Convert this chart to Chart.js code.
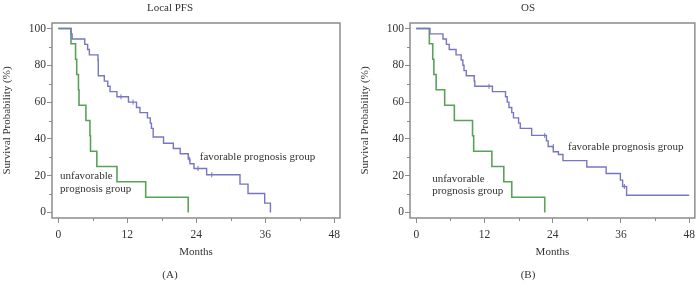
<!DOCTYPE html>
<html>
<head>
<meta charset="utf-8">
<script src="https://cdn.jsdelivr.net/npm/chart.js@4/dist/chart.umd.min.js"></script>
<style>
  html, body { margin: 0; padding: 0; background: #fff; }
  #wrap { position: relative; width: 700px; height: 291px; }
  canvas { position: absolute; top: 0; }
  #pfs { left: 0; }
  #os { left: 350px; }
</style>
</head>
<body>
<div id="wrap">
  <canvas id="pfs" width="350" height="291"></canvas>
  <canvas id="os" width="350" height="291"></canvas>
</div>
<script>
// Local PFS - favorable prognosis group (month of event, survival % after it)
const pfsFavMonths = [0, 2.2, 2.4, 4.6, 5.1, 5.4, 6.9, 6.95, 8.0, 8.6, 9.0, 10.2, 12.2, 13.6, 14.2, 15.5, 16.0, 16.2, 16.5, 18.3, 20.0, 21.2, 22.6, 22.9, 23.6, 25.8, 31.6, 33.0, 35.9, 36.9];
const pfsFavSurv = [100, 97.1, 94.3, 91.4, 88.6, 85.7, 82.9, 74.3, 71.4, 68.6, 65.7, 62.9, 60.0, 57.1, 54.3, 51.4, 48.6, 45.7, 41.0, 37.6, 34.8, 31.9, 29.0, 26.5, 23.9, 20.5, 15.4, 10.3, 5.1, 0];
// Local PFS - unfavorable prognosis group
const pfsUnfMonths = [0, 2.2, 3.0, 3.2, 3.5, 3.6, 4.8, 5.5, 5.6, 6.7, 10.2, 15.2, 22.6];
const pfsUnfSurv = [100, 91.7, 83.3, 75.0, 66.7, 58.3, 50.0, 41.7, 33.3, 25.0, 16.7, 8.3, 0];
// censored observations (favorable group)
const pfsCensMonths = [10.9, 13.0, 22.8, 24.3, 26.7];
const pfsCensSurv = [62.9, 60.0, 29.0, 23.9, 20.5];

// OS - favorable prognosis group
const osFavMonths = [0, 2.4, 4.7, 5.3, 5.8, 7.0, 7.9, 8.2, 8.4, 8.8, 10.2, 10.3, 13.4, 15.7, 16.0, 16.3, 16.8, 17.1, 18.0, 18.3, 20.3, 22.9, 23.2, 24.1, 25.0, 25.8, 30.0, 33.4, 35.9, 36.3, 37.0, 48.0];
const osFavSurv = [100, 97.1, 94.3, 91.4, 88.6, 85.7, 82.9, 80.0, 77.1, 74.3, 71.4, 68.6, 65.7, 62.9, 60.0, 57.1, 54.3, 51.4, 48.6, 45.7, 41.9, 38.9, 35.9, 33.0, 31.5, 28.2, 24.7, 21.2, 17.6, 14.1, 9.4, 9.4];
// OS - unfavorable prognosis group
const osUnfMonths = [0, 2.3, 2.9, 3.1, 3.5, 5.0, 6.7, 9.9, 10.1, 13.3, 15.4, 16.8, 22.6];
const osUnfSurv = [100, 91.7, 83.3, 75.0, 66.7, 58.3, 50.0, 41.7, 33.3, 25.0, 16.7, 8.3, 0];
const osCensMonths = [12.8, 22.6, 24.1, 36.6];
const osCensSurv = [68.6, 41.9, 35.9, 14.1];

const monthTicks = [0, 12, 24, 36, 48];
const minorMonths = [6, 18, 30, 42];
const minorSurv = [10, 30, 50, 70, 90];

const favColor = '#7676c4';
const unfColor = '#5aa25a';
const frameColor = '#8c8c8c';
const textColor = '#333';
const serif = "'Liberation Serif', 'Times New Roman', serif";

function pts(xs, ys) {
  return xs.map((m, i) => ({ x: m, y: ys[i] }));
}

const framePlugin = {
  id: 'frame',
  beforeDatasetsDraw(chart) {
    const { ctx, chartArea: a, scales: { x, y } } = chart;
    ctx.save();
    ctx.strokeStyle = frameColor;
    ctx.lineWidth = 1.5;
    ctx.strokeRect(a.left, a.top, a.right - a.left, a.bottom - a.top);
    ctx.lineWidth = 1;
    ctx.beginPath();
    minorMonths.forEach(v => {
      const px = Math.round(x.getPixelForValue(v)) + 0.5;
      ctx.moveTo(px, a.bottom);
      ctx.lineTo(px, a.bottom + 3);
    });
    minorSurv.forEach(v => {
      const py = Math.round(y.getPixelForValue(v)) + 0.5;
      ctx.moveTo(a.left, py);
      ctx.lineTo(a.left - 3, py);
    });
    ctx.stroke();
    ctx.restore();
  },
  afterDatasetsDraw(chart, args, opts) {
    const { ctx, scales: { x, y } } = chart;
    ctx.save();
    ctx.fillStyle = textColor;
    ctx.font = '11px ' + serif;
    ctx.textBaseline = 'middle';
    ctx.textAlign = 'left';
    (opts.notes || []).forEach(n => {
      ctx.fillText(n.text, x.getPixelForValue(n.x), y.getPixelForValue(n.y));
    });
    ctx.restore();
  }
};

function makeChart(id, cfg) {
  const font = { family: serif, size: 11, weight: 'normal' };
  const tickFont = { family: serif, size: 11.5, weight: 'normal' };
  return new Chart(document.getElementById(id), {
    type: 'scatter',
    data: {
      datasets: [
        { data: pts(cfg.favM, cfg.favS), showLine: true, stepped: true, borderColor: favColor, borderWidth: 1.4, pointRadius: 0 },
        { data: pts(cfg.unfM, cfg.unfS), showLine: true, stepped: true, borderColor: unfColor, borderWidth: 1.6, pointRadius: 0 },
        { data: pts(cfg.censM, cfg.censS), showLine: false, pointStyle: 'line', rotation: 90, pointRadius: 2.5, borderColor: favColor, borderWidth: 1 }
      ]
    },
    options: {
      responsive: false,
      animation: false,
      devicePixelRatio: 1,
      layout: { padding: { left: cfg.padLeft, right: cfg.padRight, top: 0, bottom: 0 } },
      plugins: {
        legend: { display: false },
        tooltip: { enabled: false },
        title: { display: true, text: cfg.title, font, color: textColor, padding: { top: 1.5, bottom: 8.3 } },
        subtitle: { display: true, position: 'bottom', text: cfg.tag, font, color: textColor, padding: { top: 2, bottom: 9.4 } },
        frame: { notes: cfg.notes }
      },
      scales: {
        x: {
          type: 'linear', min: -1.1, max: 49,
          afterBuildTicks: s => { s.ticks = monthTicks.map(v => ({ value: v })); },
          ticks: { font: tickFont, color: textColor, padding: 5, maxRotation: 0 },
          grid: { drawOnChartArea: false, tickLength: 5, tickColor: frameColor },
          border: { display: false },
          title: { display: true, text: 'Months', font, color: textColor, padding: { top: 0, bottom: 7.4 } },
          afterFit: s => { s.height = 48.4; }
        },
        y: {
          type: 'linear', min: -3, max: 103,
          ticks: { stepSize: 20, includeBounds: false, font: tickFont, color: textColor, padding: 1 },
          grid: { drawOnChartArea: false, tickLength: 5, tickColor: frameColor },
          border: { display: false },
          title: { display: true, text: 'Survival Probability (%)', font, color: textColor, padding: { top: 0.5, bottom: 0 } },
          afterFit: s => { s.width = 52; }
        }
      }
    },
    plugins: [framePlugin]
  });
}

makeChart('pfs', {
  title: 'Local PFS', tag: '(A)',
  favM: pfsFavMonths, favS: pfsFavSurv,
  unfM: pfsUnfMonths, unfS: pfsUnfSurv,
  censM: pfsCensMonths, censS: pfsCensSurv,
  padLeft: 0, padRight: 10,
  notes: [
    { text: 'favorable prognosis group', x: 24.6, y: 29.9 },
    { text: 'unfavorable', x: 0.3, y: 19.6 },
    { text: 'prognosis group', x: 0.3, y: 12.7 }
  ]
});

makeChart('os', {
  title: 'OS', tag: '(B)',
  favM: osFavMonths, favS: osFavSurv,
  unfM: osUnfMonths, unfS: osUnfSurv,
  censM: osCensMonths, censS: osCensSurv,
  padLeft: 8, padRight: 2,
  notes: [
    { text: 'favorable prognosis group', x: 26.7, y: 35.6 },
    { text: 'unfavorable', x: 2.8, y: 18.4 },
    { text: 'prognosis group', x: 2.8, y: 11.7 }
  ]
});
</script>
</body>
</html>
